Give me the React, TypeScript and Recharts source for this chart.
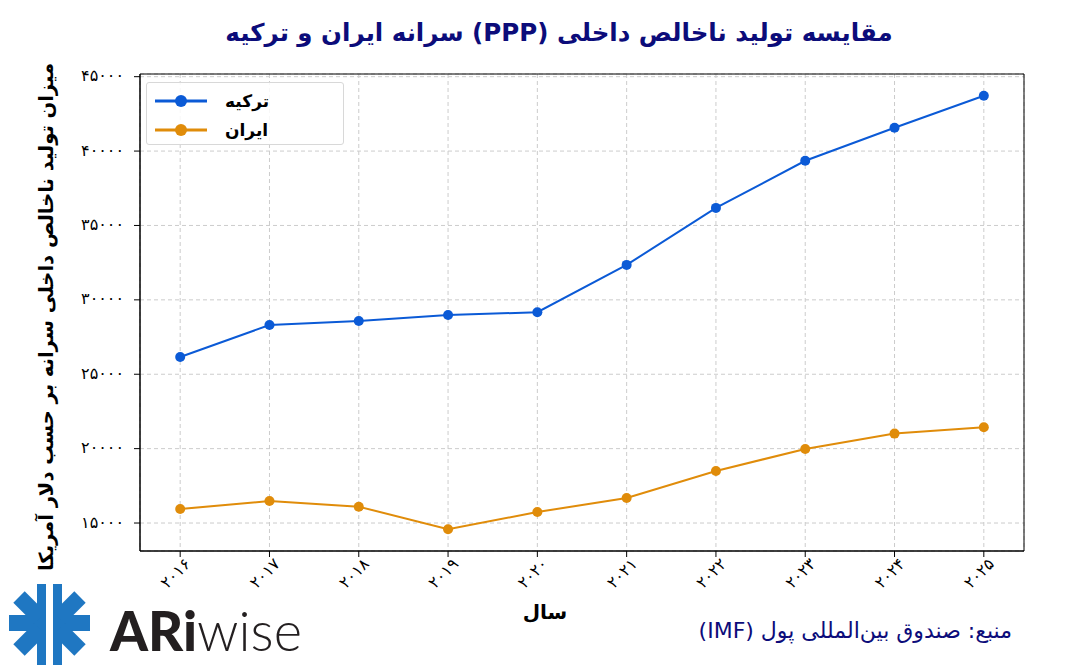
import React from "react";
import {
  LineChart,
  Line,
  XAxis,
  YAxis,
  CartesianGrid,
  Legend,
  ReferenceArea,
} from "recharts";

// values (USD, PPP per capita)
const years = [2016, 2017, 2018, 2019, 2020, 2021, 2022, 2023, 2024, 2025];
const turkey = [26160, 28310, 28580, 28980, 29170, 32350, 36180, 39350, 41570, 43720];
const iran = [15940, 16480, 16100, 14580, 15740, 16680, 18500, 19980, 21010, 21440];
const yTicks = [15000, 20000, 25000, 30000, 35000, 40000, 45000];

const seriesOrder = ["turkey", "iran"];
const seriesNames = { turkey: "ترکیه", iran: "ایران" };
const colors = { turkey: "#0b5ad6", iran: "#e08c0a" };

const data = years.map((year, i) => ({ year, turkey: turkey[i], iran: iran[i] }));

const FA_FONT = "'DejaVu Sans', sans-serif";
const NAVY = "#0c0c7a";

const faDigits = "۰۱۲۳۴۵۶۷۸۹";
const toFa = (v: number | string) => String(v).replace(/[0-9]/g, (d) => faDigits[+d]);

const XTick = ({ x, y, payload }: any) => (
  <g transform={`translate(${x},${y})`}>
    <text
      transform="translate(-4,15) rotate(-45)"
      textAnchor="middle"
      dominantBaseline="middle"
      fontSize={16}
      fontFamily={FA_FONT}
      fill="#000"
    >
      {toFa(payload.value)}
    </text>
  </g>
);

const YTick = ({ x, y, payload }: any) => (
  <text x={x} y={y} textAnchor="end" dominantBaseline="middle" fontSize={16} fontFamily={FA_FONT} fill="#000">
    {toFa(payload.value)}
  </text>
);

const LegendBox = ({ payload }: any) => {
  const items = [...(payload || [])].sort(
    (a: any, b: any) => seriesOrder.indexOf(a.dataKey) - seriesOrder.indexOf(b.dataKey)
  );
  return (
    <div
      style={{
        width: 198,
        height: 63,
        border: "1px solid #d8d8d8",
        borderRadius: 3,
        background: "rgba(255,255,255,0.85)",
        boxSizing: "border-box",
        padding: "3px 0 0 8px",
      }}
    >
      {items.map((p: any) => (
        <div key={p.value} style={{ display: "flex", alignItems: "center", height: 29 }}>
          <svg width={54} height={14}>
            <line x1={0} y1={7} x2={52} y2={7} stroke={p.color} strokeWidth={3} />
            <circle cx={26} cy={7} r={6} fill={p.color} />
          </svg>
          <span
            style={{
              marginLeft: 16,
              fontFamily: FA_FONT,
              fontSize: 17,
              fontWeight: "bold",
              direction: "rtl",
            }}
          >
            {p.value}
          </span>
        </div>
      ))}
    </div>
  );
};

const Logo = () => (
  <svg width={310} height={90} style={{ position: "absolute", left: 0, top: 578 }}>
    <g fill="#1f77c2" stroke="none">
      <rect x={37} y={6} width={9} height={81} />
      <rect x={53} y={6} width={9} height={81} />
      <rect x={9} y={37} width={28} height={16} />
      <rect x={62} y={37} width={28} height={16} />
    </g>
    <g stroke="#1f77c2" strokeWidth={16}>
      <line x1={19} y1={19} x2={40} y2={40} />
      <line x1={19} y1={72} x2={40} y2={51} />
      <line x1={80} y1={19} x2={59} y2={40} />
      <line x1={80} y1={72} x2={59} y2={51} />
    </g>
    <text
      x={110}
      y={73}
      fontFamily="Lato, 'Open Sans', sans-serif"
      fontSize={56}
      fill="#231f20"
      textLength={192}
      lengthAdjust="spacingAndGlyphs"
    >
      <tspan fontWeight={900}>ARi</tspan>
      <tspan fontWeight={300}>wise</tspan>
    </text>
  </svg>
);

export default function App() {
  return (
    <div style={{ position: "absolute", left: 0, top: 0, width: 1078, height: 672, background: "#fff" }}>
      <div
        style={{
          position: "absolute",
          left: 209,
          top: 18,
          width: 700,
          textAlign: "center",
          fontFamily: FA_FONT,
          fontWeight: "bold",
          fontSize: 24.5,
          color: NAVY,
          direction: "rtl",
        }}
      >
        مقایسه تولید ناخالص داخلی (PPP) سرانه ایران و ترکیه
      </div>

      <LineChart
        width={1078}
        height={672}
        data={data}
        margin={{ top: 74, right: 54, left: 0, bottom: 0 }}
        style={{ position: "absolute", left: 0, top: 0 }}
      >
        <CartesianGrid stroke="#cccccc" strokeDasharray="4 3" />
        <XAxis
          dataKey="year"
          type="number"
          domain={[2015.55, 2025.45]}
          ticks={years}
          height={121}
          tick={<XTick />}
          tickSize={6}
          axisLine={{ stroke: "#000" }}
          tickLine={{ stroke: "#000" }}
        />
        <YAxis
          domain={[13120, 45180]}
          ticks={yTicks}
          width={140}
          tick={<YTick />}
          tickSize={6}
          tickMargin={10}
          axisLine={{ stroke: "#000" }}
          tickLine={{ stroke: "#000" }}
        />
        <ReferenceArea
          x1={2015.55}
          x2={2025.45}
          y1={13120}
          y2={45180}
          fill="none"
          stroke="#000"
          strokeWidth={1}
          ifOverflow="visible"
        />
        <Legend
          layout="vertical"
          verticalAlign="middle"
          align="center"
          wrapperStyle={{ left: 146, top: 82, width: 198 }}
          content={<LegendBox />}
        />
        <Line
          dataKey="turkey"
          name={seriesNames.turkey}
          stroke={colors.turkey}
          strokeWidth={2}
          dot={{ r: 5, fill: colors.turkey, stroke: colors.turkey, strokeWidth: 0 }}
          isAnimationActive={false}
        />
        <Line
          dataKey="iran"
          name={seriesNames.iran}
          stroke={colors.iran}
          strokeWidth={2}
          dot={{ r: 5, fill: colors.iran, stroke: colors.iran, strokeWidth: 0 }}
          isAnimationActive={false}
        />
      </LineChart>

      <div
        style={{
          position: "absolute",
          left: 46,
          top: 317,
          transform: "translate(-50%,-50%) rotate(-90deg)",
          whiteSpace: "nowrap",
          fontFamily: FA_FONT,
          fontWeight: "bold",
          fontSize: 19.5,
          direction: "rtl",
        }}
      >
        میزان تولید ناخالص داخلی سرانه بر حسب دلار آمریکا
      </div>

      <div
        style={{
          position: "absolute",
          left: 545,
          top: 612,
          transform: "translate(-50%,-50%)",
          fontFamily: FA_FONT,
          fontWeight: "bold",
          fontSize: 20,
          direction: "rtl",
        }}
      >
        سال
      </div>

      <div
        style={{
          position: "absolute",
          right: 66,
          top: 630,
          transform: "translateY(-50%)",
          fontFamily: FA_FONT,
          fontSize: 22,
          color: NAVY,
          direction: "rtl",
          whiteSpace: "nowrap",
        }}
      >
        منبع: صندوق بین‌المللی پول (IMF)
      </div>

      <Logo />
    </div>
  );
}
